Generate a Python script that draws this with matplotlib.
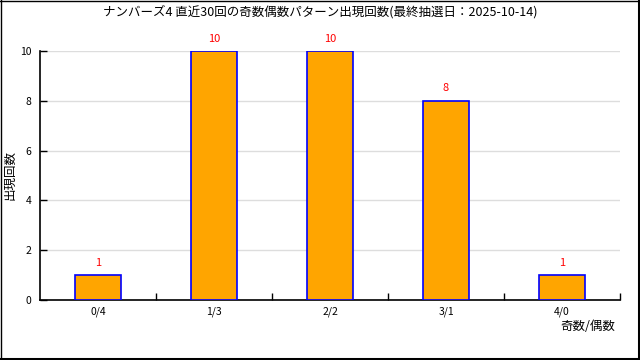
import matplotlib

matplotlib.use("Agg")
import matplotlib.pyplot as plt
from matplotlib.lines import Line2D

plt.rcParams["font.family"] = ["Noto Sans CJK JP", "DejaVu Sans"]

# --- data ---------------------------------------------------------------- #
patterns = ["0/4", "1/3", "2/2", "3/1", "4/0"]
counts = [1, 10, 10, 8, 1]
title = "ナンバーズ4 直近30回の奇数偶数パターン出現回数(最終抽選日：2025-10-14)"

fig = plt.figure(figsize=(6.4, 3.6), dpi=100)
ax = fig.add_axes([40 / 640, 1 - 300 / 360, 580 / 640, 249 / 360])

xs = list(range(len(patterns)))
ax.bar(xs, counts, width=0.4, color="#FFA500", edgecolor="#0000FF",
       linewidth=1.2, zorder=3)
for x, c in zip(xs, counts):
    ax.text(x, c + 0.3, str(c), ha="center", va="bottom", color="red",
            fontsize=8, zorder=4)

ax.set_xlim(-0.5, len(patterns) - 0.5)
ax.set_ylim(0, 10)
ax.set_xticks(xs)
ax.set_xticklabels(patterns, fontsize=7.5)
ax.tick_params(axis="x", length=0, pad=5)
ax.set_xticks([i + 0.5 for i in range(len(patterns))], minor=True)
ax.tick_params(axis="x", which="minor", direction="in", length=5, width=1)
ax.set_yticks(range(0, 11, 2))
ax.tick_params(axis="y", direction="in", length=5, width=1, labelsize=7.5,
               pad=6)
ax.grid(axis="y", color="#dddddd", linewidth=1, zorder=0)

for side in ("top", "right"):
    ax.spines[side].set_visible(False)
for side in ("left", "bottom"):
    ax.spines[side].set_linewidth(1.2)

fig.text(0.5, 1 - 12 / 360, title, ha="center", va="center", fontsize=9)
fig.text(615 / 640, 1 - 327 / 360, "奇数/偶数", ha="right", va="center",
         fontsize=9)
fig.text(10 / 640, 1 - 175 / 360, "出現回数", ha="center", va="center",
         rotation=90, fontsize=9)

# frame around the picture, heavier on the right and bottom
fig.add_artist(Line2D([0.5 / 640, 0.5 / 640], [0, 1], color="black", lw=1,
                      transform=fig.transFigure))
fig.add_artist(Line2D([0, 1], [1 - 0.5 / 360, 1 - 0.5 / 360], color="black",
                      lw=1, transform=fig.transFigure))
fig.add_artist(Line2D([638.5 / 640, 638.5 / 640], [0, 1], color="black",
                      lw=2.2, transform=fig.transFigure))
fig.add_artist(Line2D([0, 1], [1.5 / 360, 1.5 / 360], color="black", lw=2.2,
                      transform=fig.transFigure))

fig.savefig("out.png", dpi=100)
